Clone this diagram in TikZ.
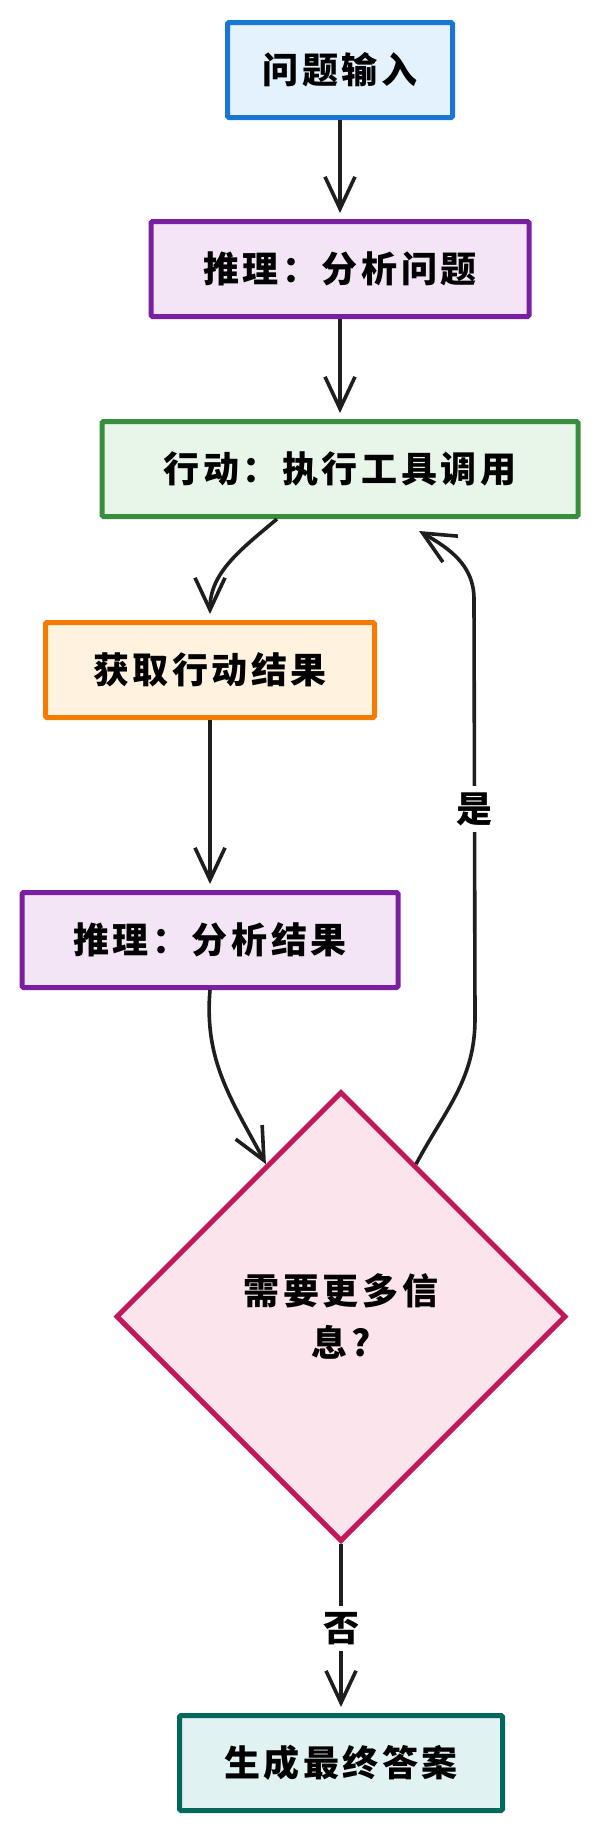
\documentclass[tikz,border=0pt]{standalone}
\usepackage{fontspec}
\setmainfont{Noto Sans CJK SC}[LetterSpace=10]
\usetikzlibrary{shapes.geometric,arrows.meta,positioning,calc}

\definecolor{inblue}{HTML}{1976D2}
\definecolor{inbluefill}{HTML}{E3F2FD}
\definecolor{thinkpurple}{HTML}{7B1FA2}
\definecolor{thinkfill}{HTML}{F3E5F5}
\definecolor{actgreen}{HTML}{388E3C}
\definecolor{actfill}{HTML}{E8F5E9}
\definecolor{obsorange}{HTML}{F57C00}
\definecolor{obsfill}{HTML}{FFF3E0}
\definecolor{askpink}{HTML}{C2185B}
\definecolor{askfill}{HTML}{FCE4EC}
\definecolor{outteal}{HTML}{00695C}
\definecolor{outfill}{HTML}{E0F2F1}
\definecolor{flowblack}{HTML}{1E1E1E}

\begin{document}
\begin{tikzpicture}[x=1pt, y=1pt, >={Straight Barb[length=32pt,width=30pt]}, font=\bfseries\fontsize{36}{52}\selectfont]
    % Estilos para los bloques
    \tikzstyle{block} = [draw, rectangle, line width=5pt, minimum height=95pt, align=center, rounded corners=1.5pt]
    \tikzstyle{inblock} = [block, draw=inblue, fill=inbluefill, minimum width=225pt]
    \tikzstyle{thinkblock} = [block, draw=thinkpurple, fill=thinkfill, minimum width=378pt]
    \tikzstyle{actblock} = [block, draw=actgreen, fill=actfill, minimum width=476pt]
    \tikzstyle{obsblock} = [block, draw=obsorange, fill=obsfill, minimum width=329pt]
    \tikzstyle{outblock} = [block, draw=outteal, fill=outfill, minimum width=323pt]
    \tikzstyle{decision} = [draw=askpink, fill=askfill, diamond, aspect=1, line width=5pt, minimum width=450pt, minimum height=450pt, inner sep=0pt, align=center]
    \tikzstyle{flow} = [->, draw=flowblack, line width=3.6pt, shorten >=6pt]
    \tikzstyle{flowlabel} = [fill=white, inner sep=6pt]

    % Fondo y margenes
    \fill[white] (0,0) rectangle (600,-1834);
    \useasboundingbox (0,0) rectangle (600,-1834);

    % --- Nodos ---
    \node [inblock] (question) at (340,-70) {问题输入};
    \node [thinkblock, below=99pt of question] (analyze) {推理：分析问题};
    \node [actblock, below=100pt of analyze] (action) {行动：执行工具调用};
    % Bloques desplazados a la izquierda
    \node [obsblock, below=101pt of action, xshift=-130pt] (observe) {获取行动结果};
    \node [thinkblock, below=170pt of observe, minimum width=376pt] (review) {推理：分析结果};
    \node [decision, below=99pt of review, xshift=131pt] (more) {需要更多信\\息?};
    \node [outblock, below=169pt of more] (answer) {生成最终答案};

    % --- Conexiones ---
    \draw [flow] (question) -- (analyze);
    \draw [flow] (analyze) -- (action);
    \draw [flow] ([xshift=-63pt]action.south) to[out=-140, in=90] (observe.north);
    \draw [flow] (observe) -- (review);
    \draw [flow, shorten >=0pt] (review.south) to[out=-95, in=118] ($(more.north)!0.33!(more.west)$);

    % Bucle de vuelta (si)
    \coordinate (yesbend) at ([xshift=134pt, yshift=70pt]more.north);
    \coordinate (yestop) at ([xshift=134pt, yshift=-80pt]action.south);
    \draw [flow, shorten >=0pt] ($(more.north)!0.33!(more.east)$) to[out=62, in=-90] (yesbend)
        -- node[flowlabel] {是} (yestop)
        to[out=90, in=-30] ([xshift=79pt, yshift=-12pt]action.south);

    % Salida (no)
    \draw [flow] (more.south) -- node[flowlabel] {否} (answer.north);

\end{tikzpicture}
\end{document}
